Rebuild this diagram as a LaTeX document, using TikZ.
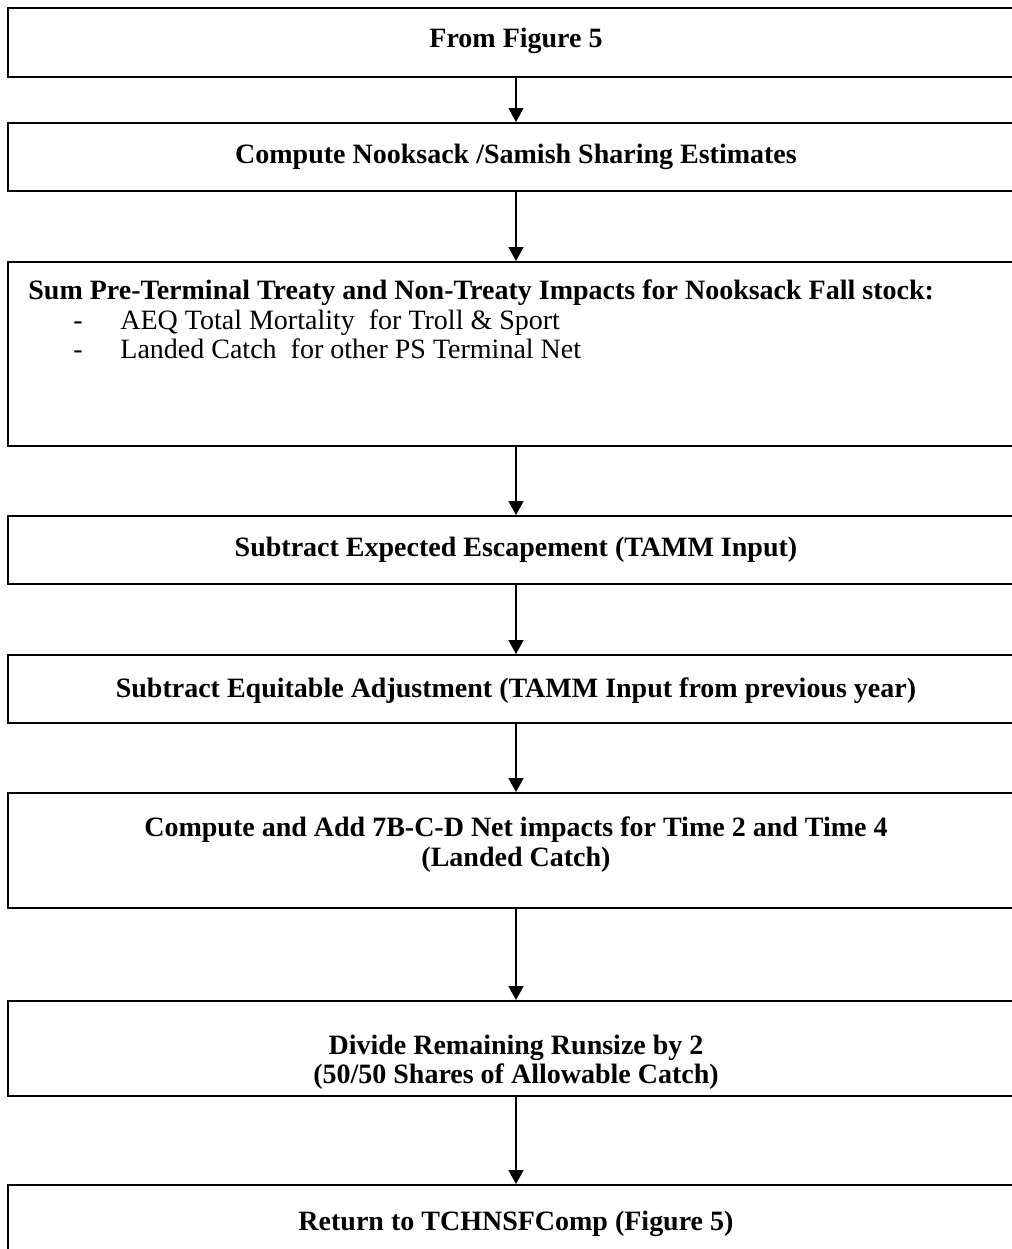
\documentclass[tikz,border=0pt]{standalone}
\usepackage{fontspec}
\setmainfont{Liberation Serif}
\usetikzlibrary{arrows.meta}

\tikzset{
  box/.style={draw, line width=1pt, minimum width=508pt, inner sep=0pt},
  lbl/.style={inner sep=0pt, font=\fontsize{14}{16.5}\selectfont\bfseries},
  itm/.style={inner sep=0pt, font=\fontsize{14}{16.5}\selectfont},
  flow/.style={line width=.75pt, -{Triangle[width=7.5pt,length=7pt]}}
}

\begin{document}
\begin{tikzpicture}[x=0.5pt, y=-0.5pt]
\useasboundingbox (0,0) rectangle (1012,1249);
\clip (0,0) rectangle (1012,1249);
% boxes
\node[box, minimum height=34.5pt] (b1) at (516,42.5) {};
\node[box, minimum height=34pt] (b2) at (516,157) {};
\node[box, minimum height=92pt] (b3) at (516,354) {};
\node[box, minimum height=34pt] (b4) at (516,550) {};
\node[box, minimum height=34pt] (b5) at (516,689) {};
\node[box, minimum height=57.5pt] (b6) at (516,850.5) {};
\node[box, minimum height=47.5pt] (b7) at (516,1048.5) {};
\node[box, minimum height=40pt] (b8) at (516,1225) {};
% texts
\node[lbl, anchor=base] (t1) at (516,47) {From Figure 5};
\node[lbl, anchor=base] (t2) at (516,163) {Compute Nooksack /Samish Sharing Estimates};
\node[lbl, anchor=base west] (t3) at (28,299) {Sum Pre-Terminal Treaty and Non-Treaty Impacts for Nooksack Fall stock:};
\node[itm, anchor=base west] (d1) at (73,329) {-};
\node[itm, anchor=base west] (i1) at (120,329) {AEQ Total Mortality~ for Troll \& Sport};
\node[itm, anchor=base west] (d2) at (73,358) {-};
\node[itm, anchor=base west] (i2) at (120,358) {Landed Catch~ for other PS Terminal Net};
\node[lbl, anchor=base] (t4) at (516,556) {Subtract Expected Escapement (TAMM Input)};
\node[lbl, anchor=base] (t5) at (516,697) {Subtract Equitable Adjustment (TAMM Input from previous year)};
\node[lbl, anchor=base] (t6a) at (516,836) {Compute and Add 7B-C-D Net impacts for Time 2 and Time 4};
\node[lbl, anchor=base] (t6b) at (516,866) {(Landed Catch)};
\node[lbl, anchor=base] (t7a) at (516,1054) {Divide Remaining Runsize by 2};
\node[lbl, anchor=base] (t7b) at (516,1083) {(50/50 Shares of Allowable Catch)};
\node[lbl, anchor=base] (t8) at (516,1230) {Return to TCHNSFComp (Figure 5)};
% arrows
\foreach \a/\b in {b1/b2, b2/b3, b3/b4, b4/b5, b5/b6, b6/b7, b7/b8}
\draw[flow] (\a.south) -- (\b.north);
\end{tikzpicture}
\end{document}
